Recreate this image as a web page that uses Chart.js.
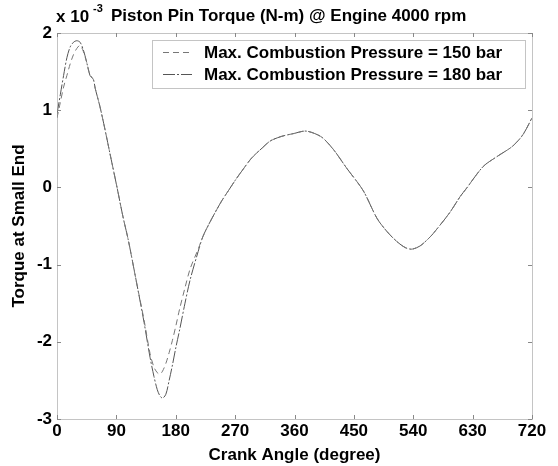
<!DOCTYPE html>
<html>
<head>
<meta charset="utf-8">
<script src="https://cdn.jsdelivr.net/npm/chart.js@4/dist/chart.umd.min.js"></script>
<style>
  html, body { margin: 0; padding: 0; background: #fff; }
  #wrap { width: 558px; height: 466px; }
</style>
</head>
<body>
<div id="wrap"><canvas id="torque"></canvas></div>
<script>
// crank angle (degree)
const angles = [0, 5, 10, 15, 20, 25, 30, 35, 40, 45, 50, 55, 58, 65, 72, 80, 91, 100, 108, 121, 132, 141, 147, 152, 156, 160, 165, 170, 175, 180, 186, 194, 202, 214, 221, 230, 240, 250, 260, 270, 280, 295, 311, 323, 340, 360, 376, 390, 403, 420, 439, 464, 485, 500, 515, 528, 538, 550, 561, 570, 595, 611, 620, 646, 667, 690, 706, 720];

// torque at small end, x 10^-3 N-m
const torque150 = [0.90, 1.10, 1.30, 1.45, 1.60, 1.72, 1.80, 1.84, 1.76, 1.62, 1.46, 1.40, 1.28, 1.05, 0.78, 0.45, 0.00, -0.38, -0.68, -1.25, -1.72, -2.15, -2.33, -2.40, -2.42, -2.38, -2.28, -2.14, -1.98, -1.80, -1.57, -1.30, -1.05, -0.80, -0.64, -0.48, -0.32, -0.17, -0.04, 0.09, 0.21, 0.38, 0.51, 0.60, 0.66, 0.70, 0.73, 0.70, 0.64, 0.48, 0.25, -0.04, -0.40, -0.57, -0.70, -0.78, -0.80, -0.76, -0.68, -0.60, -0.33, -0.12, -0.02, 0.27, 0.40, 0.53, 0.68, 0.90];
const torque180 = [0.95, 1.20, 1.45, 1.68, 1.82, 1.88, 1.90, 1.88, 1.78, 1.62, 1.45, 1.40, 1.28, 1.05, 0.78, 0.45, 0.00, -0.38, -0.68, -1.25, -1.75, -2.20, -2.45, -2.62, -2.70, -2.73, -2.68, -2.50, -2.30, -2.08, -1.84, -1.50, -1.19, -0.83, -0.64, -0.48, -0.32, -0.17, -0.04, 0.09, 0.21, 0.38, 0.51, 0.60, 0.66, 0.70, 0.73, 0.70, 0.64, 0.48, 0.25, -0.04, -0.40, -0.57, -0.70, -0.78, -0.80, -0.76, -0.68, -0.60, -0.33, -0.12, -0.02, 0.27, 0.40, 0.53, 0.68, 0.90];

const seriesNames = ['Max. Combustion Pressure = 150 bar', 'Max. Combustion Pressure = 180 bar'];
const xTicks = [0, 90, 180, 270, 360, 450, 540, 630, 720];
const yTicks = [-3, -2, -1, 0, 1, 2];

const FONT = '"Liberation Sans", Arial, sans-serif';

// dotted box, inward ticks, title and legend
const frame = {
  id: 'frame',
  afterDraw(chart) {
    const { ctx, chartArea: a, scales } = chart;
    ctx.save();
    ctx.strokeStyle = '#888';
    ctx.lineWidth = 1;
    ctx.setLineDash([1, 1]);
    ctx.strokeRect(a.left + 0.5, a.top + 0.5, a.right - a.left, a.bottom - a.top);
    ctx.setLineDash([]);
    ctx.beginPath();
    xTicks.forEach(v => {
      const x = Math.round(scales.x.getPixelForValue(v)) + 0.5;
      ctx.moveTo(x, a.bottom); ctx.lineTo(x, a.bottom - 4);
      ctx.moveTo(x, a.top); ctx.lineTo(x, a.top + 4);
    });
    yTicks.forEach(v => {
      const y = Math.round(scales.y.getPixelForValue(v)) + 0.5;
      ctx.moveTo(a.left, y); ctx.lineTo(a.left + 4, y);
      ctx.moveTo(a.right, y); ctx.lineTo(a.right - 4, y);
    });
    ctx.stroke();

    // title + exponent
    ctx.fillStyle = '#000';
    ctx.textBaseline = 'alphabetic';
    ctx.textAlign = 'left';
    ctx.font = 'bold 17px ' + FONT;
    ctx.fillText('x 10', 56, 22);
    ctx.font = 'bold 11px ' + FONT;
    ctx.fillText('-3', 93, 12);
    ctx.font = 'bold 17px ' + FONT;
    ctx.fillText('Piston Pin Torque (N-m) @ Engine 4000 rpm', 111, 21);

    // legend
    const lx = 152, ly = 40, lw = 373, lh = 48;
    ctx.fillStyle = '#fff';
    ctx.fillRect(lx, ly, lw, lh);
    ctx.strokeStyle = '#888';
    ctx.setLineDash([1, 1]);
    ctx.strokeRect(lx + 0.5, ly + 0.5, lw, lh);
    chart.data.datasets.forEach((ds, i) => {
      const yy = ly + 12 + i * 22;
      ctx.strokeStyle = ds.borderColor;
      ctx.lineWidth = ds.borderWidth;
      ctx.setLineDash(ds.borderDash || []);
      ctx.beginPath();
      ctx.moveTo(163, yy + 0.5);
      ctx.lineTo(192, yy + 0.5);
      ctx.stroke();
      ctx.setLineDash([]);
      ctx.fillStyle = '#000';
      ctx.font = 'bold 17px ' + FONT;
      ctx.textBaseline = 'middle';
      ctx.fillText(ds.label, 204, yy + 1);
    });
    ctx.restore();
  }
};

new Chart(document.getElementById('torque'), {
  type: 'line',
  data: {
    datasets: [
      {
        label: seriesNames[0],
        data: angles.map((a, i) => ({ x: a, y: torque150[i] })),
        borderColor: '#777',
        borderWidth: 1,
        borderDash: [6, 4],
        pointRadius: 0,
        tension: 0.3
      },
      {
        label: seriesNames[1],
        data: angles.map((a, i) => ({ x: a, y: torque180[i] })),
        borderColor: '#555',
        borderWidth: 1,
        borderDash: [12, 2, 2, 2],
        pointRadius: 0,
        tension: 0.3
      }
    ]
  },
  options: {
    responsive: true,
    maintainAspectRatio: false,
    animation: false,
    layout: { padding: { top: 33, right: 26, left: 9, bottom: 0 } },
    plugins: { legend: { display: false }, tooltip: { enabled: false } },
    scales: {
      x: {
        type: 'linear',
        min: 0,
        max: 720,
        afterBuildTicks(scale) { scale.ticks = xTicks.map(v => ({ value: v })); },
        afterFit(scale) { scale.height = 47; },
        grid: { display: false, drawTicks: false, tickLength: 0 },
        border: { display: false },
        ticks: { color: '#000', padding: 2, font: { family: FONT, size: 17, weight: 'bold' } },
        title: { display: true, text: 'Crank Angle (degree)', color: '#000', padding: 0,
                 font: { family: FONT, size: 17, weight: 'bold' } }
      },
      y: {
        min: -3,
        max: 2,
        afterBuildTicks(scale) { scale.ticks = yTicks.map(v => ({ value: v })); },
        afterFit(scale) { scale.width = 48; },
        grid: { display: false, drawTicks: false, tickLength: 0 },
        border: { display: false },
        ticks: { color: '#000', padding: 5, font: { family: FONT, size: 17, weight: 'bold' } },
        title: { display: true, text: 'Torque at Small End', color: '#000', padding: 0,
                 font: { family: FONT, size: 17, weight: 'bold' } }
      }
    }
  },
  plugins: [frame]
});
</script>
</body>
</html>
